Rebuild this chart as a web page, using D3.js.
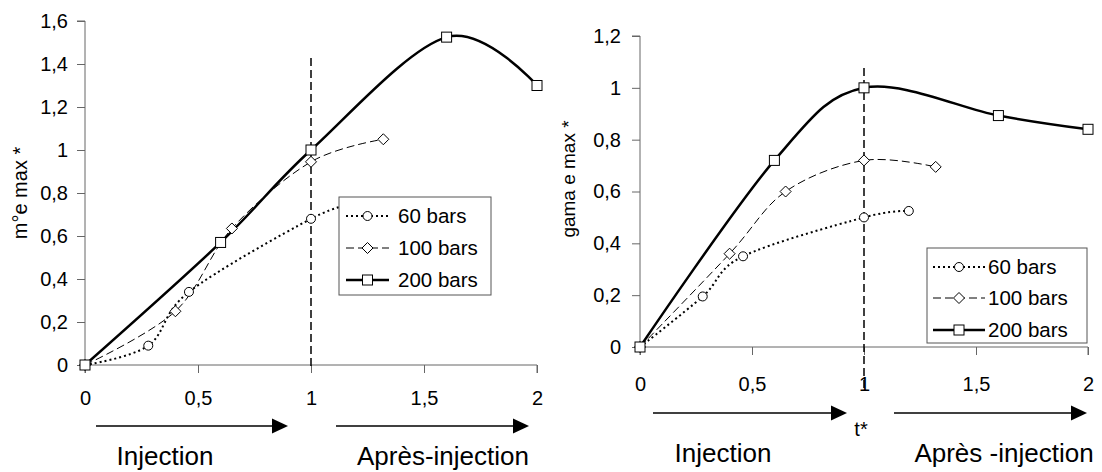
<!DOCTYPE html>
<html>
<head>
<meta charset="utf-8">
<script src="https://cdn.jsdelivr.net/npm/d3@7"></script>
<style>
  html, body { margin: 0; padding: 0; background: #fff; }
  svg { display: block; font-family: Arial, "Liberation Sans", sans-serif; }
</style>
</head>
<body>
<svg id="chart" width="1102" height="472"></svg>
<script>
// ---------- data ----------
const seriesNames = ["60 bars", "100 bars", "200 bars"];
const xTickValues = [0, 0.5, 1, 1.5, 2];
const leftYTickValues = [0, 0.2, 0.4, 0.6, 0.8, 1, 1.2, 1.4, 1.6];
const rightYTickValues = [0, 0.2, 0.4, 0.6, 0.8, 1, 1.2];

// left chart: m°e max*
const left60X = [0, 0.28, 0.46, 1, 1.2];
const left60Y = [0, 0.09, 0.34, 0.68, 0.75];
const left100X = [0, 0.4, 0.65, 1, 1.32];
const left100Y = [0, 0.25, 0.635, 0.945, 1.05];
const left200X = [0, 0.6, 1, 1.6, 2];
const left200Y = [0, 0.57, 1.0, 1.525, 1.3];

// right chart: gama e max*
const right60X = [0, 0.28, 0.46, 1, 1.2];
const right60Y = [0, 0.195, 0.35, 0.5, 0.525];
const right100X = [0, 0.4, 0.65, 1, 1.32];
const right100Y = [0, 0.36, 0.6, 0.72, 0.695];
const right200X = [0, 0.6, 1, 1.6, 2];
const right200Y = [0, 0.72, 1.0, 0.893, 0.84];

const leftYTitle = "m°e max *";
const rightYTitle = "gama e max *";
const phaseLabels = ["Injection", "Après-injection"];
const phaseLabelsRight = ["Injection", "Après -injection"];
const xTitleRight = "t*";

// ---------- drawing ----------
const svg = d3.select("#chart");
const fmt = v => String(v).replace(".", ",");

const styles = [
  { dash: "2,3", width: 2, marker: "circle" },
  { dash: "8,4", width: 1, marker: "diamond" },
  { dash: null, width: 2.5, marker: "square" }
];

function drawMarker(g, type, x, y) {
  if (type === "circle") {
    g.append("circle").attr("cx", x).attr("cy", y).attr("r", 4.5)
      .attr("fill", "#fff").attr("stroke", "#000").attr("stroke-width", 1);
  } else if (type === "diamond") {
    const s = 5.5;
    g.append("path").attr("d", `M${x},${y - s}L${x + s},${y}L${x},${y + s}L${x - s},${y}Z`)
      .attr("fill", "#fff").attr("stroke", "#000").attr("stroke-width", 1);
  } else {
    const s = 5;
    g.append("rect").attr("x", x - s).attr("y", y - s).attr("width", 2 * s).attr("height", 2 * s)
      .attr("fill", "#fff").attr("stroke", "#000").attr("stroke-width", 1);
  }
}

function drawArrow(g, x1, x2, y) {
  const headLen = 16, headH = 7.5;
  g.append("line").attr("x1", x1).attr("x2", x2 - headLen + 1).attr("y1", y).attr("y2", y)
    .attr("stroke", "#000").attr("stroke-width", 1.5);
  g.append("path").attr("d", `M${x2},${y}L${x2 - headLen},${y - headH}L${x2 - headLen},${y + headH}Z`)
    .attr("fill", "#000");
}

function drawChart(cfg) {
  const g = svg.append("g");
  const x = d3.scaleLinear().domain([0, 2]).range([cfg.x0, cfg.x1]);
  const y = d3.scaleLinear().domain([0, cfg.yMax]).range([cfg.y0, cfg.y1]);

  // y axis
  const yAxis = d3.axisLeft(y).tickValues(cfg.yTicks).tickFormat(fmt).tickSize(8).tickPadding(cfg.yPad);
  const ya = g.append("g").attr("transform", `translate(${cfg.x0},0)`).call(yAxis);
  ya.select(".domain").attr("stroke", "#666").attr("d", `M-8,${cfg.y1}H0V${cfg.y0}`);
  ya.selectAll(".tick line").attr("stroke", "#666");
  ya.selectAll("text").attr("font-size", 20).attr("fill", "#000")
    .attr("font-family", "Arial, 'Liberation Sans', sans-serif");

  // x axis
  const xAxis = d3.axisBottom(x).tickValues(xTickValues).tickFormat(fmt).tickSize(8).tickPadding(cfg.xPad);
  const xa = g.append("g").attr("transform", `translate(0,${cfg.y0})`).call(xAxis);
  xa.select(".domain").attr("stroke", "#666").attr("d", `M${cfg.x0},8V0H${cfg.x1}V8`);
  xa.selectAll(".tick line").attr("stroke", "#666");
  xa.selectAll("text").attr("font-size", 20).attr("fill", "#000")
    .attr("font-family", "Arial, 'Liberation Sans', sans-serif");

  // vertical dashed line at t* = 1
  g.append("line").attr("x1", x(1)).attr("x2", x(1))
    .attr("y1", cfg.vTop).attr("y2", cfg.vBottom)
    .attr("stroke", "#000").attr("stroke-width", 1.5).attr("stroke-dasharray", "8,4");

  // series
  const line = d3.line().x(d => x(d[0])).y(d => y(d[1])).curve(d3.curveCatmullRom.alpha(0));
  cfg.series.forEach((s, i) => {
    const pts = s.xs.map((v, k) => [v, s.ys[k]]);
    const st = styles[i];
    const p = g.append("path").attr("d", line(pts)).attr("fill", "none")
      .attr("stroke", "#000").attr("stroke-width", st.width);
    if (st.dash) p.attr("stroke-dasharray", st.dash);
  });
  cfg.series.forEach((s, i) => {
    s.xs.forEach((v, k) => drawMarker(g, styles[i].marker, x(v), y(s.ys[k])));
  });

  // y title
  g.append("text").attr("transform", `translate(${cfg.titleX},${cfg.titleY}) rotate(-90)`)
    .attr("text-anchor", "middle").attr("font-size", cfg.titleSize).text(cfg.yTitle);

  // legend
  const L = cfg.legend;
  g.append("rect").attr("x", L.x).attr("y", L.y).attr("width", L.w).attr("height", L.h)
    .attr("fill", "#fff").attr("stroke", "#555").attr("stroke-width", 1);
  seriesNames.forEach((name, i) => {
    const cy = L.rows[i];
    const st = styles[i];
    const ln = g.append("line").attr("x1", L.lx1).attr("x2", L.lx2).attr("y1", cy).attr("y2", cy)
      .attr("stroke", "#000").attr("stroke-width", st.width);
    if (st.dash) ln.attr("stroke-dasharray", st.dash);
    drawMarker(g, st.marker, (L.lx1 + L.lx2) / 2, cy);
    g.append("text").attr("x", L.tx).attr("y", cy + 7).attr("font-size", 20.5).text(name);
  });

  // arrows and phase labels
  drawArrow(g, cfg.arrow1[0], cfg.arrow1[1], cfg.arrowY);
  drawArrow(g, cfg.arrow2[0], cfg.arrow2[1], cfg.arrowY);
  g.append("text").attr("x", cfg.phase1X).attr("y", cfg.phaseY).attr("text-anchor", "middle")
    .attr("font-size", 26).text(cfg.phases[0]);
  g.append("text").attr("x", cfg.phase2X).attr("y", cfg.phaseY).attr("text-anchor", "middle")
    .attr("font-size", 26).text(cfg.phases[1]);
  if (cfg.xTitle) {
    g.append("text").attr("x", cfg.xTitleX).attr("y", cfg.xTitleY).attr("text-anchor", "middle")
      .attr("font-size", 20).text(cfg.xTitle);
  }
}

drawChart({
  x0: 85, x1: 537, y0: 365, y1: 21, yMax: 1.6, yTicks: leftYTickValues,
  yPad: 9, xPad: 18,
  vTop: 58, vBottom: 366,
  series: [
    { xs: left60X, ys: left60Y },
    { xs: left100X, ys: left100Y },
    { xs: left200X, ys: left200Y }
  ],
  yTitle: leftYTitle, titleX: 27, titleY: 193, titleSize: 20,
  legend: { x: 339, y: 197, w: 152, h: 98, rows: [216, 248, 280], lx1: 346, lx2: 389, tx: 398 },
  arrow1: [96, 288], arrow2: [336, 529], arrowY: 426,
  phases: phaseLabels, phase1X: 165, phase2X: 443, phaseY: 465
});

drawChart({
  x0: 640, x1: 1088, y0: 347, y1: 36, yMax: 1.2, yTicks: rightYTickValues,
  yPad: 11, xPad: 22,
  vTop: 68, vBottom: 388,
  series: [
    { xs: right60X, ys: right60Y },
    { xs: right100X, ys: right100Y },
    { xs: right200X, ys: right200Y }
  ],
  yTitle: rightYTitle, titleX: 575, titleY: 179, titleSize: 19,
  legend: { x: 927, y: 248, w: 160, h: 95, rows: [267, 298, 330], lx1: 933, lx2: 985, tx: 988 },
  arrow1: [653, 847], arrow2: [894, 1087], arrowY: 413,
  phases: phaseLabelsRight, phase1X: 723, phase2X: 1004, phaseY: 462,
  xTitle: xTitleRight, xTitleX: 861, xTitleY: 436
});
</script>
</body>
</html>
